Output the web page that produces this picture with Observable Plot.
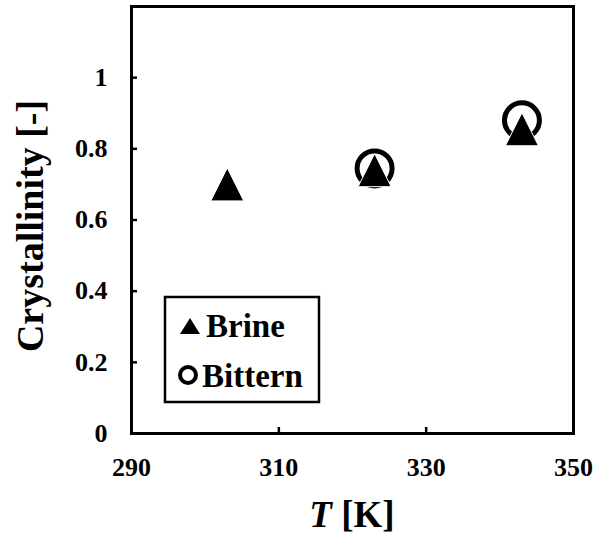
<!DOCTYPE html>
<html>
<head>
<meta charset="utf-8">
<script src="https://cdn.jsdelivr.net/npm/d3@7"></script>
<script src="https://cdn.jsdelivr.net/npm/@observablehq/plot@0.6"></script>
<style>
  html, body { margin: 0; padding: 0; background: #fff; }
  #chart svg { display: block; }
</style>
</head>
<body>
<div id="chart"></div>
<script>
const brineT = [303, 323, 343];
const brineC = [0.70, 0.74, 0.855];
const bitternT = [323, 343];
const bitternC = [0.745, 0.88];
const xTicks = [290, 310, 330, 350];
const yTicks = [0, 0.2, 0.4, 0.6, 0.8, 1];
const yTickLabels = ["0", "0.2", "0.4", "0.6", "0.8", "1"];
const seriesNames = ["Brine", "Bittern"];

const brine = brineT.map((t, i) => ({T: t, c: brineC[i]}));
const bittern = bitternT.map((t, i) => ({T: t, c: bitternC[i]}));

const triUp = {
  draw(ctx, size) {
    const a = Math.sqrt(size / Math.PI);
    ctx.moveTo(0, -a);
    ctx.lineTo(a, a);
    ctx.lineTo(-a, a);
    ctx.closePath();
  }
};

const font = "'Liberation Serif', 'Times New Roman', serif";

const chart = Plot.plot({
  width: 594,
  height: 538,
  marginLeft: 131,
  marginRight: 21,
  marginTop: 6,
  marginBottom: 105,
  style: {fontFamily: font, fontWeight: "bold", fontSize: "26px", color: "#000", background: "#fff"},
  x: {domain: [290, 350]},
  y: {domain: [0, 1.2]},
  marks: [
    Plot.axisX({ticks: xTicks.slice(1, -1), tickSize: 6, dy: -6, text: null, strokeWidth: 2.5, label: null}),
    Plot.axisX({ticks: xTicks, tickSize: 0, tickPadding: 24, label: null, fontSize: 26, fontWeight: "bold"}),
    Plot.axisY({ticks: yTicks.slice(1), tickSize: 6, dx: 6, text: null, strokeWidth: 2.5, label: null}),
    Plot.axisY({ticks: yTicks, tickSize: 0, tickPadding: 24, label: null, tickFormat: (d) => yTickLabels[yTicks.indexOf(d)], fontSize: 26, fontWeight: "bold"}),
    Plot.dot(bittern, {x: "T", y: "c", r: 17.5, stroke: "#000", strokeWidth: 5, fill: "none"}),
    Plot.dot(brine, {x: "T", y: "c", r: 16.5, symbol: triUp, fill: "#000", stroke: "#fff", strokeWidth: 1}),
    Plot.frame({stroke: "#000", strokeWidth: 3})
  ]
});

const svg = d3.select(chart);

// x axis title
const xt = svg.append("text")
  .attr("x", 352).attr("y", 527)
  .attr("text-anchor", "middle")
  .attr("font-family", font).attr("font-weight", "bold").attr("font-size", 37)
  .attr("fill", "#000");
xt.append("tspan").attr("font-style", "italic").text("T");
xt.append("tspan").text(" [K]");

// y axis title
svg.append("text")
  .attr("transform", "translate(43,226) rotate(-90)")
  .attr("text-anchor", "middle")
  .attr("font-family", font).attr("font-weight", "bold").attr("font-size", 38)
  .attr("fill", "#000")
  .text("Crystallinity [-]");

// legend
const lg = svg.append("g");
lg.append("rect").attr("x", 165).attr("y", 297).attr("width", 154).attr("height", 105)
  .attr("fill", "#fff").attr("stroke", "#000").attr("stroke-width", 2.5);
lg.append("path").attr("d", "M190,318L200,334L180,334Z").attr("fill", "#000");
lg.append("circle").attr("cx", 188).attr("cy", 375).attr("r", 8)
  .attr("fill", "none").attr("stroke", "#000").attr("stroke-width", 4);
lg.append("text").attr("x", 206).attr("y", 337).attr("text-anchor", "start")
  .attr("font-family", font).attr("font-weight", "bold").attr("font-size", 33)
  .attr("fill", "#000").text(seriesNames[0]);
lg.append("text").attr("x", 202).attr("y", 387).attr("text-anchor", "start")
  .attr("font-family", font).attr("font-weight", "bold").attr("font-size", 33)
  .attr("fill", "#000").text(seriesNames[1]);

document.getElementById("chart").appendChild(chart);
</script>
</body>
</html>
